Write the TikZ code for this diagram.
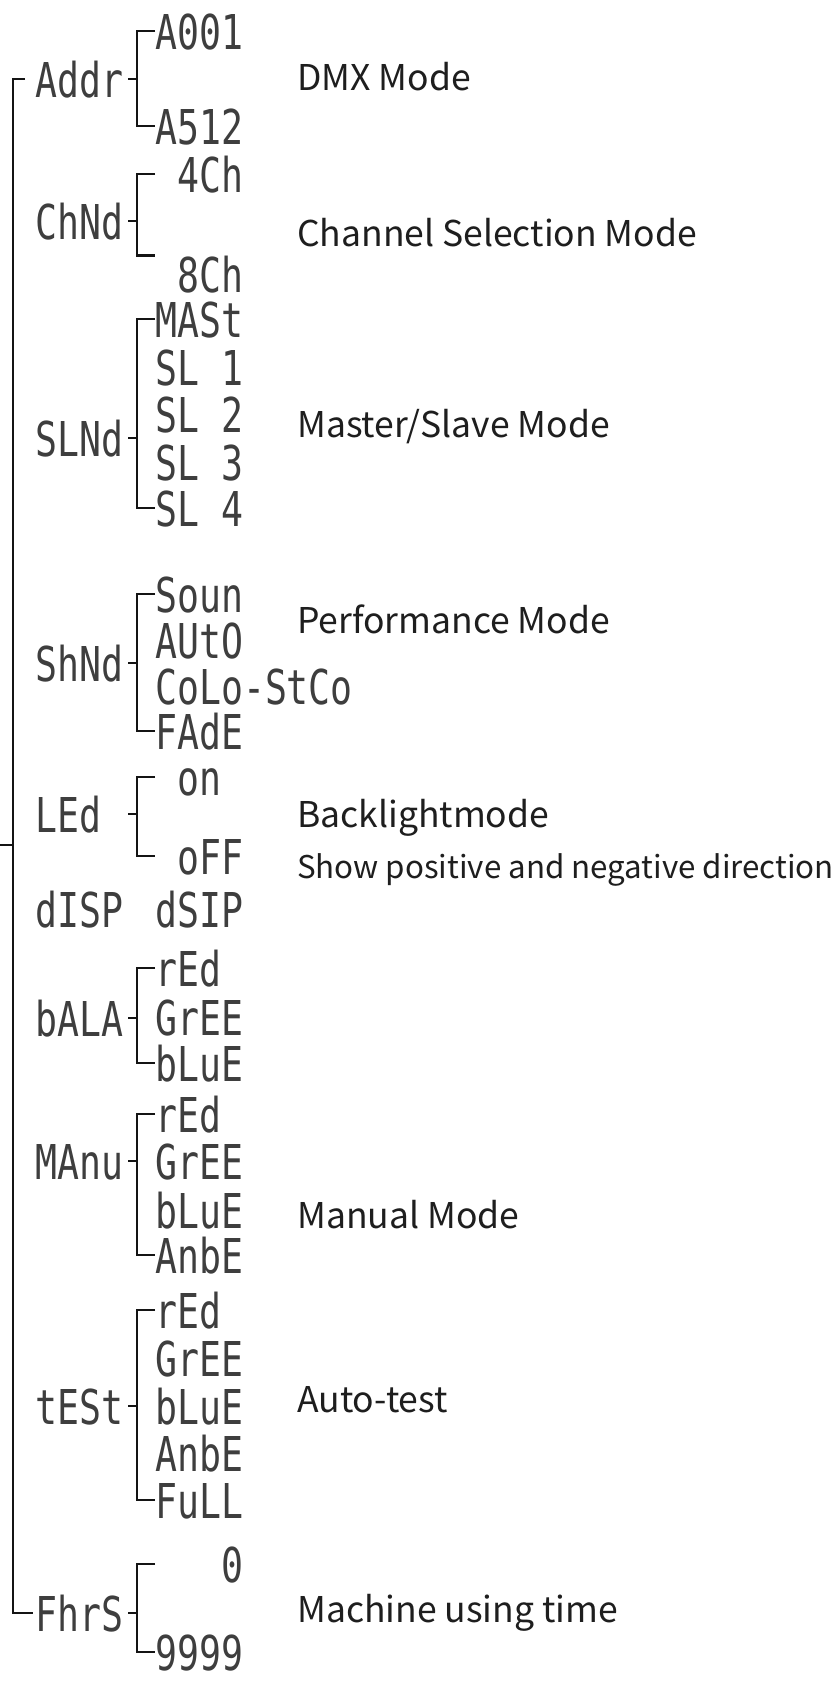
\documentclass[tikz,border=0pt]{standalone}
\usepackage{fontspec}
\newfontfamily\labfont{Noto Sans CJK SC}
\newfontfamily\lcdfont[FakeStretch=0.76]{DejaVu Sans Mono}
\newcommand\blk{\phantom{0}}
\definecolor{lcdgray}{HTML}{3E3E3E}
\definecolor{linec}{HTML}{141414}
\definecolor{labc}{HTML}{1E1E1E}
\tikzset{
  lcd/.style={anchor=base west, inner sep=0pt, text height=36pt, text depth=0pt,
    font=\lcdfont\fontsize{48}{52}\selectfont, text=lcdgray},
  lab/.style={anchor=base west, inner sep=0pt, font=\labfont\fontsize{35.5}{40}\selectfont, text=labc},
  labsmall/.style={anchor=base west, inner sep=0pt, font=\labfont\fontsize{31.3}{35}\selectfont, text=labc},
  conn/.style={draw=linec, line width=2.9pt},
}
\begin{document}
\begin{tikzpicture}[x=1pt,y=-1pt]
\fill[white] (0,0) rectangle (838,1682);
\useasboundingbox (0,0) rectangle (838,1682);

% parents
\node[lcd] (addr) at (35,97)   {Addr};
\node[lcd] (chnd) at (35,239)  {ChNd};
\node[lcd] (slnd) at (35,456)  {SLNd};
\node[lcd] (shnd) at (35,681)  {ShNd};
\node[lcd] (led)  at (35,832)  {LEd};
\node[lcd] (disp) at (35,927)  {dISP};
\node[lcd] (bala) at (35,1036) {bALA};
\node[lcd] (manu) at (35,1179) {MAnu};
\node[lcd] (test) at (35,1424) {tESt};
\node[lcd] (fhrs) at (35,1631) {FhrS};

% children
\node[lcd] (a001) at (155,49)  {A001};
\node[lcd] (a512) at (155,144) {A512};
\node[lcd] (c4)   at (155,192) {\blk 4Ch};
\node[lcd] (c8)   at (155,292) {\blk 8Ch};
\node[lcd] (mast) at (155,337) {MASt};
\node[lcd] (sl1)  at (155,385) {SL\blk 1};
\node[lcd] (sl2)  at (155,432) {SL\blk 2};
\node[lcd] (sl3)  at (155,480) {SL\blk 3};
\node[lcd] (sl4)  at (155,526) {SL\blk 4};
\node[lcd] (soun) at (155,612) {Soun};
\node[lcd] (auto) at (155,658) {AUtO};
\node[lcd] (colo) at (155,704) {CoLo-StCo};
\node[lcd] (fade) at (155,749) {FAdE};
\node[lcd] (on)   at (155,795) {\blk on};
\node[lcd] (off)  at (155,874) {\blk oFF};
\node[lcd] (dsip) at (155,927) {dSIP};
\node[lcd] (r1)   at (155,986)  {rEd};
\node[lcd] (g1)   at (155,1035) {GrEE};
\node[lcd] (b1)   at (155,1081) {bLuE};
\node[lcd] (r2)   at (155,1132) {rEd};
\node[lcd] (g2)   at (155,1179) {GrEE};
\node[lcd] (b2)   at (155,1228) {bLuE};
\node[lcd] (a2)   at (155,1273) {AnbE};
\node[lcd] (r3)   at (155,1328) {rEd};
\node[lcd] (g3)   at (155,1376) {GrEE};
\node[lcd] (b3)   at (155,1424) {bLuE};
\node[lcd] (a3)   at (155,1471) {AnbE};
\node[lcd] (f3)   at (155,1518) {FuLL};
\node[lcd] (zero) at (155,1582) {\blk\blk\blk 0};
\node[lcd] (nine) at (155,1670) {9999};

% labels
\node[lab] (l1) at (297,90)   {DMX Mode};
\node[lab] (l2) at (297,246)  {Channel Selection Mode};
\node[lab] (l3) at (297,437)  {Master/Slave Mode};
\node[lab] (l4) at (297,633)  {Performance Mode};
\node[lab] (l5) at (297,827)  {Backlightmode};
\node[labsmall] (l6) at (297,878) {Show positive and negative direction};
\node[lab] (l7) at (297,1228) {Manual Mode};
\node[lab] (l8) at (297,1412) {Auto-test};
\node[lab] (l9) at (297,1622) {Machine using time};

% trunk
\coordinate (in) at (0,845);
\draw[conn] ([xshift=-10pt]addr.west) -| ([xshift=-22pt]fhrs.west) -- ([xshift=-2pt]fhrs.west);
\draw[conn] (in) -- ++(13,0);

% ticks from parents to brackets
\foreach \p in {addr,chnd,slnd,shnd,led,bala,manu,test,fhrs}
  \draw[conn] ([xshift=93pt]\p.west) -- ++(9,0);

% brackets
\draw[conn] (a001.west) -- ++(-18,0) |- (a512.west);
\draw[conn] (c4.west) -- ++(-18,0) |- (c8.north west);
\draw[conn] (mast.west) -- ++(-18,0) |- (sl4.west);
\draw[conn] (soun.west) -- ++(-18,0) |- (fade.west);
\draw[conn] (on.west) -- ++(-18,0) |- (off.west);
\draw[conn] (r1.west) -- ++(-18,0) |- (b1.west);
\draw[conn] (r2.west) -- ++(-18,0) |- (a2.west);
\draw[conn] (r3.west) -- ++(-18,0) |- (f3.west);
\draw[conn] (zero.west) -- ++(-18,0) |- (nine.west);
\end{tikzpicture}
\end{document}
